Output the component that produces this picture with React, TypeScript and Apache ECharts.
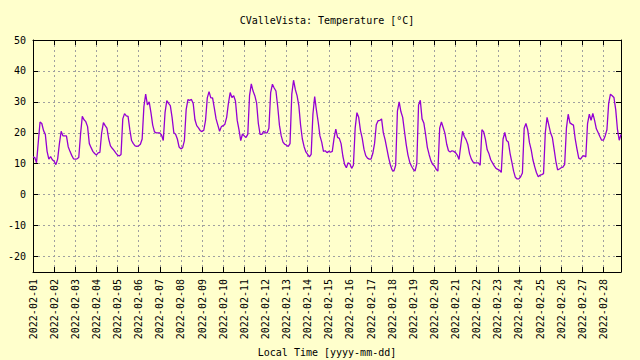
import React, { useEffect, useRef } from "react";
import * as echarts from "echarts";

// Two-hourly temperature readings (°C) for each day, starting at 00:00
const feb01 = [12.2, 12, 10.3, 17, 23.5, 23, 20.7, 19.5, 14, 11.5, 12.3, 11.3];
const feb02 = [10.8, 9.7, 11.5, 16.5, 20.5, 19, 19, 19, 15.5, 14, 12.7, 11.6];
const feb03 = [11.5, 11.6, 12, 19.5, 25.3, 24.2, 23.6, 22, 16.5, 15.2, 14, 13.3];
const feb04 = [12.8, 13.5, 13.7, 20, 23.3, 22.3, 21.5, 18, 15.8, 15, 14.3, 13.5];
const feb05 = [12.8, 12.5, 13, 24.5, 26.2, 25.5, 25.3, 21, 17.5, 16.5, 15.8, 15.6];
const feb06 = [15.8, 16.3, 18, 28.5, 32.5, 29, 30, 26.5, 22.5, 20.3, 20, 20];
const feb07 = [20, 19.3, 17.5, 26.5, 30.4, 29.5, 28.8, 25, 20, 19.5, 18, 15.4];
const feb08 = [14.8, 15.2, 17.5, 27.5, 30.7, 30.5, 30.8, 29.5, 24.2, 22.3, 21.6, 20.7];
const feb09 = [20.4, 20.8, 24, 31.3, 33.3, 31.3, 31.3, 28, 24.5, 22.5, 20.5, 22];
const feb10 = [22.3, 22.8, 25, 29.5, 33, 31.4, 32, 30.3, 24, 21, 17.5, 19.6];
const feb11 = [19, 18.5, 19.5, 32, 35.8, 33.5, 32, 29.7, 23, 19.5, 19.5, 20.5];
const feb12 = [20, 20, 21.5, 33, 35.7, 34.5, 33.5, 28.5, 22.4, 19, 17, 16.3];
const feb13 = [16, 15.6, 16.5, 32.5, 37, 34, 32, 28.8, 22.5, 18, 15.5, 13.8];
const feb14 = [13, 12.2, 13, 26, 31.7, 27.3, 23.5, 19, 17, 14, 14.2, 13.6];
const feb15 = [14, 13.7, 14, 18.2, 21.2, 18.5, 18.2, 16.5, 12.5, 9.8, 8.7, 10.3];
const feb16 = [10, 8.5, 9.5, 21.5, 26.5, 25, 20.8, 18.3, 14.7, 12.6, 11.8, 11.5];
const feb17 = [11.5, 13.3, 16.5, 22.6, 23.9, 24, 24.5, 20, 17.8, 14.9, 12, 9.6];
const feb18 = [8, 7.6, 9.5, 27, 30, 26.8, 25, 20.5, 16.2, 12.8, 10.5, 9.2];
const feb19 = [8.2, 7.6, 10, 29, 30.5, 24.5, 23.2, 19.5, 15.3, 13, 11, 9.8];
const feb20 = [9.3, 8.2, 7.6, 21.5, 23.5, 21.7, 19.8, 16.3, 14.2, 13.8, 14.2, 14];
const feb21 = [13.6, 12.8, 11.4, 16, 20.5, 18.8, 17.8, 16.2, 13.2, 11.5, 10.5, 10.3];
const feb22 = [10.3, 10.3, 9.5, 21, 20.3, 17.9, 14.5, 13.2, 11.3, 10.3, 9.3, 8.5];
const feb23 = [8.2, 7.9, 7.2, 18, 20.1, 17.5, 17, 13.3, 10.5, 7.6, 5.6, 5.1];
const feb24 = [5.1, 5.8, 7, 21.5, 23, 21, 16.8, 14.5, 11.2, 9, 7.1, 5.8];
const feb25 = [6.3, 6.5, 6.8, 20, 25, 22.5, 20, 18.5, 14.7, 10.8, 8, 8.3];
const feb26 = [8.7, 8.9, 9.8, 21.5, 26, 23.2, 22.8, 22.5, 18, 14.7, 11.8, 11.5];
const feb27 = [12.3, 12.6, 12.2, 23, 26, 24, 26.3, 24, 21.3, 20.1, 18.8, 17.6];
const feb28 = [17.6, 19, 21, 29.5, 32.5, 32, 31.4, 27.5, 21, 17.6, 19.5];

const days = [
  feb01, feb02, feb03, feb04, feb05, feb06, feb07, feb08, feb09, feb10,
  feb11, feb12, feb13, feb14, feb15, feb16, feb17, feb18, feb19, feb20,
  feb21, feb22, feb23, feb24, feb25, feb26, feb27, feb28,
];

const dayLabels = days.map((_, i) => `2022-02-${String(i + 1).padStart(2, "0")}`);
const yTickValues = [-20, -10, 0, 10, 20, 30, 40, 50];
const sampleStepHours = 2;
const xMaxHours = 27 * 24 + 20;

const titleText = "CValleVista: Temperature [°C]";
const xName = "Local Time [yyyy-mm-dd]";

const FONT = "DejaVu Sans Mono";

export default function App() {
  const ref = useRef<HTMLDivElement>(null);

  useEffect(() => {
    if (!ref.current) return;
    const chart = echarts.init(ref.current, null, { renderer: "svg" });

    const data: [number, number][] = [];
    days.forEach((vals, d) => {
      vals.forEach((v, k) => data.push([d * 24 + k * sampleStepHours, v]));
    });

    const gridLine = { show: true, lineStyle: { color: "#a0a0a0", type: [2, 3] as any, width: 1 } };
    const axisLine = { show: true, onZero: false, lineStyle: { color: "#000", width: 1 } };
    const tick = { show: true, inside: true, length: 5, lineStyle: { color: "#000" } };
    const yTick = { ...tick, customValues: yTickValues };

    chart.setOption({
      animation: false,
      backgroundColor: "#ffffcc",
      textStyle: { fontFamily: FONT },
      graphic: [
        {
          type: "text",
          x: 327,
          y: 20,
          style: {
            text: titleText,
            font: `10px '${FONT}'`,
            fill: "#000",
            textAlign: "center",
            textVerticalAlign: "middle",
          },
        },
      ],
      grid: {
        left: 33,
        top: 40,
        width: 588,
        height: 232,
        containLabel: false,
        outerBoundsMode: "none",
      },
      xAxis: [
        {
          type: "value",
          min: 0,
          max: xMaxHours,
          interval: 24,
          position: "bottom",
          axisLine,
          axisTick: tick,
          splitLine: gridLine,
          axisLabel: {
            rotate: 90,
            margin: 7,
            color: "#000",
            fontFamily: FONT,
            fontSize: 10,
            showMaxLabel: false,
            formatter: (v: number) => (v % 24 === 0 ? dayLabels[v / 24] ?? "" : ""),
          },
          name: xName,
          nameLocation: "middle",
          nameGap: 73,
          nameTextStyle: { color: "#000", fontFamily: FONT, fontSize: 10 },
        },
        {
          type: "value",
          min: 0,
          max: xMaxHours,
          interval: 24,
          position: "top",
          axisLine,
          axisTick: tick,
          splitLine: { show: false },
          axisLabel: { show: false },
        },
      ],
      yAxis: [
        {
          type: "value",
          min: -25,
          max: 50,
          position: "left",
          axisLine,
          axisTick: yTick,
          splitLine: gridLine,
          axisLabel: {
            margin: 7,
            color: "#000",
            fontFamily: FONT,
            fontSize: 10,
            customValues: yTickValues,
          },
        },
        {
          type: "value",
          min: -25,
          max: 50,
          position: "right",
          axisLine,
          axisTick: yTick,
          splitLine: { show: false },
          axisLabel: { show: false },
        },
      ],
      series: [
        {
          type: "line",
          data,
          xAxisIndex: 0,
          yAxisIndex: 0,
          showSymbol: false,
          lineStyle: { color: "#9400d3", width: 1.3 },
          itemStyle: { color: "#9400d3" },
        },
      ],
    });

    return () => chart.dispose();
  }, []);

  return (
    <div
      ref={ref}
      style={{ position: "absolute", left: 0, top: 0, width: 640, height: 360 }}
    />
  );
}
